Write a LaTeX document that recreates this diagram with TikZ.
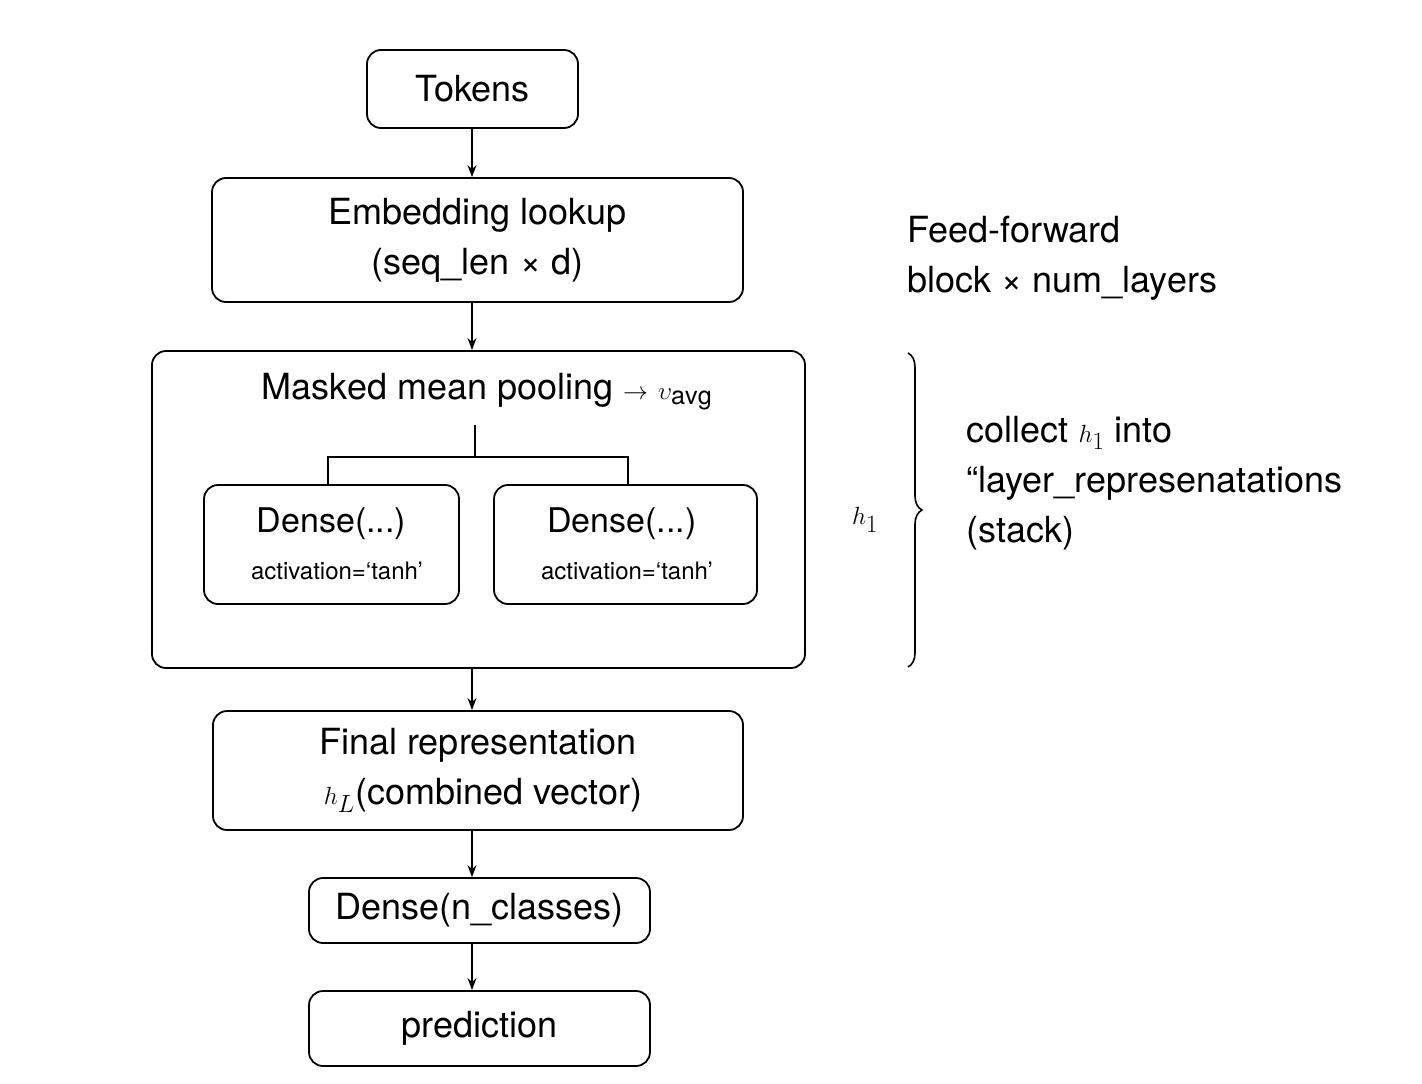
\documentclass[tikz,border=0pt]{standalone}
\usepackage{fontspec}
\setmainfont{TeX Gyre Heros}
\usetikzlibrary{decorations.pathreplacing,arrows.meta}
\begin{document}
\begin{tikzpicture}[x=1pt,y=-1pt,
  box/.style={draw,line width=1.8pt,rounded corners=14pt,align=center,inner sep=0pt},
  arr/.style={-{Stealth[length=12pt,width=9pt]},line width=1.6pt},
  big/.style={font=\fontsize{36}{50}\selectfont},
  mid/.style={font=\fontsize{34}{48}\selectfont}]
\useasboundingbox (0,0) rectangle (1422,1084);
\node[box,big,minimum width=211pt,minimum height=78pt] (tok) at (472.5,89) {Tokens};
\node[box,big,minimum width=531pt,minimum height=124pt] (emb) at (477.5,240) {Embedding lookup\\(seq\_len × d)};
\node[box,minimum width=653pt,minimum height=317pt] (outer) at (478.5,509.5) {};
\node[big,anchor=center] (mmp) at (487,392) {Masked mean pooling $\rightarrow$ $\upsilon_{\mathrm{avg}}$};
\node[box,minimum width=255pt,minimum height=119pt] (d1) at (331.5,544.5) {};
\node[mid] (d1t) at (331.5,524) {Dense(...)};
\node[font=\fontsize{24}{30}\selectfont] (d1a) at (337,571) {activation=‘tanh’};
\node[box,minimum width=263pt,minimum height=119pt] (d2) at (625.5,544.5) {};
\node[mid] (d2t) at (622,524) {Dense(...)};
\node[font=\fontsize{24}{30}\selectfont] (d2a) at (627,571) {activation=‘tanh’};
\coordinate (t0) at (475,425);
\coordinate (t1) at (475,457);
\draw[line width=1.6pt] (t0) -- (t1);
\draw[line width=1.6pt] (328,485) |- (t1) -| (628,485);
\node[box,big,minimum width=530pt,minimum height=119pt] (fin) at (478,770.5) {Final representation\\ \ $h_L$(combined vector)};
\node[box,big,minimum width=341pt,minimum height=65pt] (dn) at (479.5,910.5) {Dense(n\_classes)};
\node[box,big,minimum width=341pt,minimum height=75pt] (pred) at (479.5,1028.5) {prediction};
\draw[arr] (tok.south -| 472,0) -- (emb.north -| 472,0);
\draw[arr] (emb.south -| 472,0) -- (outer.north -| 472,0);
\draw[arr] (outer.south -| 472,0) -- (fin.north -| 472,0);
\draw[arr] (fin.south -| 472,0) -- (dn.north -| 472,0);
\draw[arr] (dn.south -| 472,0) -- (pred.north -| 472,0);
\node[big,anchor=west,align=left] (ff) at (904,258) {Feed-forward\\block × num\_layers};
\draw[line width=1.6pt,decorate,decoration={brace,amplitude=14pt}] (908,353) -- (908,667) coordinate (bb);
\node[font=\fontsize{40}{48}\selectfont] (h1) at (865,520) {$h_1$};
\node[big,anchor=west,align=left] (col) at (963,483) {collect $h_1$ into\\“layer\_represenatations\\(stack)};
\end{tikzpicture}
\end{document}
